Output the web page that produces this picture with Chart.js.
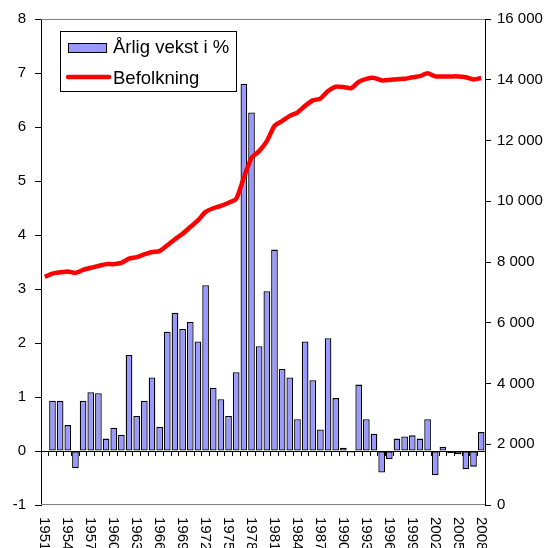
<!DOCTYPE html>
<html>
<head>
<meta charset="utf-8">
<script src="https://cdn.jsdelivr.net/npm/chart.js@4"></script>
<style>
html,body{margin:0;padding:0;background:#fff;}
canvas{display:block;}
</style>
</head>
<body>
<canvas id="c" width="547" height="548"></canvas>
<script>
const years = [1951,1952,1953,1954,1955,1956,1957,1958,1959,1960,1961,1962,1963,1964,1965,1966,1967,1968,1969,1970,1971,1972,1973,1974,1975,1976,1977,1978,1979,1980,1981,1982,1983,1984,1985,1986,1987,1988,1989,1990,1991,1992,1993,1994,1995,1996,1997,1998,1999,2000,2001,2002,2003,2004,2005,2006,2007,2008];
const growth = [null,0.93,0.93,0.48,-0.32,0.93,1.09,1.07,0.23,0.43,0.30,1.78,0.65,0.93,1.36,0.45,2.21,2.56,2.26,2.39,2.03,3.07,1.17,0.96,0.65,1.46,6.80,6.27,1.94,2.96,3.73,1.52,1.36,0.59,2.03,1.31,0.40,2.09,0.98,0.06,-0.03,1.23,0.59,0.32,-0.40,-0.15,0.23,0.27,0.29,0.23,0.59,-0.45,0.08,-0.04,-0.06,-0.34,-0.29,0.35];
const population = [7510,7620,7660,7690,7640,7740,7810,7870,7930,7930,7970,8110,8160,8250,8330,8360,8550,8750,8930,9150,9370,9650,9770,9850,9950,10080,10780,11430,11650,11980,12480,12640,12810,12920,13140,13320,13380,13630,13770,13760,13720,13930,14030,14060,13980,13990,14020,14030,14080,14120,14210,14110,14110,14110,14110,14080,14010,14060];
const xTickLabels = ['1951','1954','1957','1960','1963','1966','1969','1972','1975','1978','1981','1984','1987','1990','1993','1996','1999','2002','2005','2008'];
const seriesNames = ['Årlig vekst i %','Befolkning'];

const FONT = '"Liberation Sans", Arial, sans-serif';

const extras = {
  id: 'extras',
  afterDraw(chart) {
    const ctx = chart.ctx;
    const a = chart.chartArea;
    const xs = chart.scales.x;
    ctx.save();
    ctx.strokeStyle = '#808080';
    ctx.lineWidth = 1;
    ctx.beginPath();
    ctx.moveTo(a.left, a.top + 0.5); ctx.lineTo(a.right, a.top + 0.5);
    ctx.moveTo(a.left, a.bottom - 0.5); ctx.lineTo(a.right, a.bottom - 0.5);
    ctx.stroke();
    ctx.fillStyle = '#000';
    ctx.font = '15px ' + FONT;
    ctx.textAlign = 'left';
    ctx.textBaseline = 'middle';
    xTickLabels.forEach(lbl => {
      const idx = years.indexOf(Number(lbl));
      const x = xs.getPixelForValue(idx) - 0.5;
      ctx.save();
      ctx.translate(x, a.bottom + 12);
      ctx.rotate(Math.PI / 2);
      ctx.fillText(lbl, 0, 0);
      ctx.restore();
    });
    ctx.fillStyle = '#fff';
    ctx.fillRect(60, 31, 176, 60);
    ctx.strokeStyle = '#000';
    ctx.lineWidth = 1;
    ctx.strokeRect(60.5, 31.5, 176, 60);
    ctx.fillStyle = '#9999FF';
    ctx.fillRect(68, 43, 39, 9);
    ctx.strokeRect(68.5, 43.5, 38, 9);
    ctx.strokeStyle = '#FF0000';
    ctx.lineWidth = 4.5;
    ctx.lineCap = 'round';
    ctx.beginPath();
    ctx.moveTo(68, 77); ctx.lineTo(109, 77);
    ctx.stroke();
    ctx.fillStyle = '#000';
    ctx.font = '18.5px ' + FONT;
    ctx.textBaseline = 'alphabetic';
    ctx.fillText(seriesNames[0], 113, 53);
    ctx.fillText(seriesNames[1], 113, 83.5);
    ctx.restore();
  }
};

const fmt = v => String(v).replace(/\B(?=(\d{3})+(?!\d))/g, ' ');

new Chart(document.getElementById('c'), {
  data: {
    labels: years,
    datasets: [
      {
        type: 'line',
        label: seriesNames[1],
        data: population,
        yAxisID: 'y1',
        borderColor: '#FF0000',
        borderWidth: 4.5,
        pointRadius: 0,
        tension: 0.2,
        order: 0
      },
      {
        type: 'bar',
        label: seriesNames[0],
        data: growth,
        yAxisID: 'y',
        backgroundColor: '#9999FF',
        borderColor: '#000',
        borderWidth: 1.3,
        borderSkipped: false,
        barPercentage: 0.87,
        categoryPercentage: 1,
        order: 1
      }
    ]
  },
  options: {
    responsive: false,
    animation: false,
    devicePixelRatio: 1,
    layout: { padding: { top: 19, bottom: 43, left: 0, right: 0 } },
    plugins: { legend: { display: false }, tooltip: { enabled: false } },
    scales: {
      x: {
        type: 'category',
        position: { y: 0 },
        offset: true,
        grid: { display: true, offset: true, drawOnChartArea: false, drawTicks: true, tickLength: 4, color: '#000', lineWidth: 1 },
        border: { display: true, color: '#000', width: 1 },
        ticks: { display: false }
      },
      y: {
        position: 'left',
        min: -1, max: 8,
        ticks: { stepSize: 1, color: '#000', font: { family: FONT, size: 15 }, padding: 9 },
        grid: { display: true, drawOnChartArea: false, drawTicks: true, tickLength: 6, color: '#000' },
        border: { display: true, color: '#000', width: 1 },
        afterFit(s) { s.width = 41; }
      },
      y1: {
        position: 'right',
        min: 0, max: 16000,
        ticks: { stepSize: 2000, color: '#000', font: { family: FONT, size: 15 }, padding: 6, callback: v => fmt(v) },
        grid: { display: true, drawOnChartArea: false, drawTicks: true, tickLength: 6, color: '#000' },
        border: { display: true, color: '#000', width: 1 },
        afterFit(s) { s.width = 62; }
      }
    }
  },
  plugins: [extras]
});
</script>
</body>
</html>
